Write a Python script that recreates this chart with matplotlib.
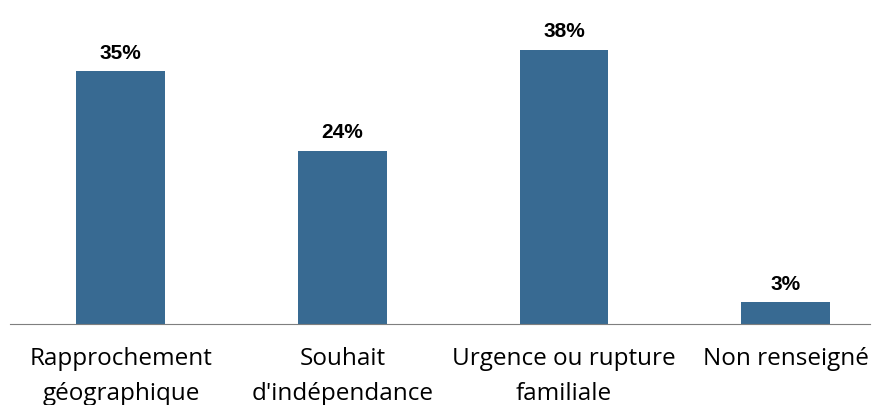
import matplotlib.pyplot as plt

categories = ["Rapprochement\ngéographique", "Souhait\nd'indépendance",
              "Urgence ou rupture\nfamiliale", "Non renseigné"]
values = [35, 24, 38, 3]
labels = ["35%", "24%", "38%", "3%"]

fig = plt.figure(figsize=(8.78, 4.06), dpi=100)
ax = fig.add_axes([10 / 878, 81 / 406, 860 / 878, 325 / 406])

pos = range(len(categories))
ax.bar(pos, values, width=0.4, color="#386a92")
for p, v, t in zip(pos, values, labels):
    ax.text(p, v + 1.3, t, ha="center", va="bottom", fontsize=15,
            fontweight="bold", family="Liberation Sans")

ax.set_xlim(-0.5, 3.38)
ax.set_ylim(0, 45)
ax.set_xticks(list(pos))
ax.set_xticklabels(categories, fontsize=17.5, family="Open Sans", linespacing=1.58)
ax.tick_params(axis="x", length=0, pad=16)
ax.set_yticks([])
for s in ["top", "left", "right"]:
    ax.spines[s].set_visible(False)
ax.spines["bottom"].set_color("#7f7f7f")

fig.savefig("out.png", dpi=100)
